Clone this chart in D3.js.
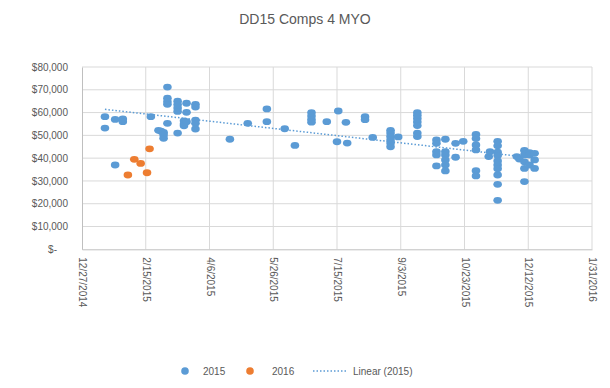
<!DOCTYPE html>
<html>
<head>
<meta charset="utf-8">
<title>DD15 Comps 4 MYO</title>
<script src="https://d3js.org/d3.v7.min.js"></script>
<style>
  body { margin: 0; background: #fff; }
  text { font-family: "Liberation Sans", Arial, sans-serif; fill: #595959; }
</style>
</head>
<body>
<div id="chart"></div>
<script>
// data
var dates2015 = ["2015-01-14","2015-01-14","2015-01-22","2015-01-22","2015-01-28","2015-01-28",
  "2015-02-19","2015-02-25","2015-02-27","2015-03-01","2015-03-01","2015-03-01",
  "2015-03-04","2015-03-04","2015-03-04","2015-03-04","2015-03-04",
  "2015-03-12","2015-03-12","2015-03-12","2015-03-12","2015-03-12",
  "2015-03-17","2015-03-17","2015-03-17","2015-03-19","2015-03-19","2015-03-19",
  "2015-03-26","2015-03-26","2015-03-26","2015-03-26","2015-03-26",
  "2015-04-22","2015-05-06","2015-05-21","2015-05-21","2015-06-04","2015-06-12",
  "2015-06-25","2015-06-25","2015-06-25","2015-06-25","2015-07-07","2015-07-15","2015-07-16",
  "2015-07-22","2015-07-23","2015-08-06","2015-08-06","2015-08-12",
  "2015-08-26","2015-08-26","2015-08-26","2015-08-26","2015-08-26","2015-08-26","2015-09-01",
  "2015-09-16","2015-09-16","2015-09-16","2015-09-16","2015-09-16","2015-09-16","2015-09-16",
  "2015-10-01","2015-10-01","2015-10-01","2015-10-01","2015-10-01",
  "2015-10-08","2015-10-08","2015-10-08","2015-10-08","2015-10-08","2015-10-08",
  "2015-10-16","2015-10-16","2015-10-22",
  "2015-11-01","2015-11-01","2015-11-01","2015-11-01","2015-11-01","2015-11-01",
  "2015-11-11","2015-11-12",
  "2015-11-18","2015-11-18","2015-11-18","2015-11-18","2015-11-18","2015-11-18","2015-11-18","2015-11-18","2015-11-18","2015-11-18",
  "2015-12-03","2015-12-05","2015-12-09","2015-12-09","2015-12-09","2015-12-09","2015-12-09",
  "2015-12-13","2015-12-13","2015-12-13","2015-12-17","2015-12-17","2015-12-17"];
var values2015 = [58200,53200,57000,37000,57200,56000,
  58200,52200,51800,51300,50200,48700,
  71200,66300,64800,63600,55300,
  65000,63500,62000,60500,51000,
  56400,55000,54200,64100,60100,56000,
  63600,62400,56700,55300,52800,
  48300,55300,61600,56000,52900,45600,
  60000,58500,57000,55800,56000,47200,60700,
  55700,46600,58200,56900,49100,
  52200,51000,49500,48000,46600,45000,49300,
  60000,58800,57400,55900,54300,51000,49500,
  48000,46500,42800,41400,36600,
  48300,42800,41400,39200,37000,34400,
  46500,40400,47400,
  50400,48600,45800,43600,34500,32200,
  40700,42800,
  47400,45400,42600,41200,38800,37000,35400,32600,28500,21500,
  40700,39600,43400,41400,38400,35500,29700,
  42400,41400,37000,42100,39200,35500];

var dates2016 = ["2015-02-01","2015-02-06","2015-02-11","2015-02-16","2015-02-18"];
var values2016 = [32600,39500,37700,33600,44100];

var xTicks = ["2014-12-27","2015-02-15","2015-04-06","2015-05-26","2015-07-15",
  "2015-09-03","2015-10-23","2015-12-12","2016-01-31"];
var yTicks = [0,10000,20000,30000,40000,50000,60000,70000,80000];

var W = 610, H = 388;
var margin = {top: 67, right: 18, bottom: 139, left: 82};
var parse = d3.timeParse("%Y-%m-%d");
var fmtTick = d3.timeFormat("%-m/%-d/%Y");

var svg = d3.select("#chart").append("svg")
  .attr("width", W).attr("height", H);

var x = d3.scaleTime()
  .domain([parse(xTicks[0]), parse(xTicks[xTicks.length - 1])])
  .range([margin.left, W - margin.right]);
var y = d3.scaleLinear()
  .domain([0, 80000])
  .range([H - margin.bottom + 0.3, margin.top]);

// title
svg.append("text")
  .attr("x", 305).attr("y", 24)
  .attr("text-anchor", "middle")
  .style("font-size", "14px")
  .text("DD15 Comps 4 MYO");

// gridlines
svg.append("g").selectAll("line.h")
  .data(yTicks.slice(1)).enter().append("line")
  .attr("x1", margin.left).attr("x2", W - margin.right)
  .attr("y1", d => y(d)).attr("y2", d => y(d))
  .attr("stroke", "#d9d9d9").attr("stroke-width", 1);
svg.append("g").selectAll("line.v")
  .data(xTicks.slice(1)).enter().append("line")
  .attr("x1", d => x(parse(d))).attr("x2", d => x(parse(d)))
  .attr("y1", y(0)).attr("y2", y(80000))
  .attr("stroke", "#d9d9d9").attr("stroke-width", 1);

// axes
var yAxis = svg.append("g")
  .attr("transform", "translate(" + margin.left + ",0)")
  .call(d3.axisLeft(y).tickValues(yTicks).tickSize(0).tickPadding(14)
    .tickFormat(d => d === 0 ? "$-" : d3.format("$,")(d)));
yAxis.select(".domain").attr("stroke", "#bfbfbf");
yAxis.selectAll("text").style("font-size", "10px").attr("fill", "#595959")
  .style("font-family", "Liberation Sans, Arial, sans-serif");
yAxis.selectAll(".tick").filter(d => d === 0).select("text").attr("x", -25);

var xAxis = svg.append("g")
  .attr("transform", "translate(0," + y(0) + ")")
  .call(d3.axisBottom(x).tickValues(xTicks.map(parse)).tickSize(0)
    .tickFormat(fmtTick));
xAxis.select(".domain").attr("stroke", "#bfbfbf");
xAxis.selectAll("text")
  .style("font-size", "10px").attr("fill", "#595959")
  .style("font-family", "Liberation Sans, Arial, sans-serif")
  .attr("text-anchor", "start")
  .attr("dy", "0.35em")
  .attr("transform", "translate(0,8) rotate(90)")
  .attr("y", 0).attr("x", 0);

var pts2015 = dates2015.map((d, i) => ({date: parse(d), value: values2015[i]}));
var pts2016 = dates2016.map((d, i) => ({date: parse(d), value: values2016[i]}));

// linear trend for 2015 (least squares), under the markers
var xs = pts2015.map(d => +d.date / 864e5), ys = pts2015.map(d => d.value);
var mx = d3.mean(xs), my = d3.mean(ys);
var slope = d3.sum(xs.map((v, i) => (v - mx) * (ys[i] - my))) / d3.sum(xs.map(v => (v - mx) * (v - mx)));
var icpt = my - slope * mx;
var ext = d3.extent(xs);
svg.append("line")
  .attr("x1", x(new Date(ext[0] * 864e5))).attr("y1", y(icpt + slope * ext[0]))
  .attr("x2", x(new Date(ext[1] * 864e5))).attr("y2", y(icpt + slope * ext[1]))
  .attr("stroke", "#5b9bd5").attr("stroke-width", 1.5)
  .attr("stroke-dasharray", "1.5,2");

// points
svg.append("g").selectAll("ellipse")
  .data(pts2015).enter().append("ellipse")
  .attr("cx", d => x(d.date)).attr("cy", d => y(d.value))
  .attr("rx", 4.3).attr("ry", 3.4)
  .attr("fill", "#5b9bd5");
svg.append("g").selectAll("ellipse")
  .data(pts2016).enter().append("ellipse")
  .attr("cx", d => x(d.date)).attr("cy", d => y(d.value))
  .attr("rx", 4.3).attr("ry", 3.4)
  .attr("fill", "#ed7d31");

// legend
var lg = svg.append("g").attr("transform", "translate(0,371)");
lg.append("circle").attr("cx", 185).attr("cy", 0).attr("r", 3.8).attr("fill", "#5b9bd5");
lg.append("text").attr("x", 203).attr("y", 3.5).style("font-size", "10px").text("2015");
lg.append("circle").attr("cx", 250).attr("cy", 0).attr("r", 3.8).attr("fill", "#ed7d31");
lg.append("text").attr("x", 272).attr("y", 3.5).style("font-size", "10px").text("2016");
lg.append("line").attr("x1", 313).attr("x2", 346).attr("y1", 0).attr("y2", 0)
  .attr("stroke", "#5b9bd5").attr("stroke-width", 1.5).attr("stroke-dasharray", "1.5,2");
lg.append("text").attr("x", 353).attr("y", 3.5).style("font-size", "10px").text("Linear (2015)");
</script>
</body>
</html>
